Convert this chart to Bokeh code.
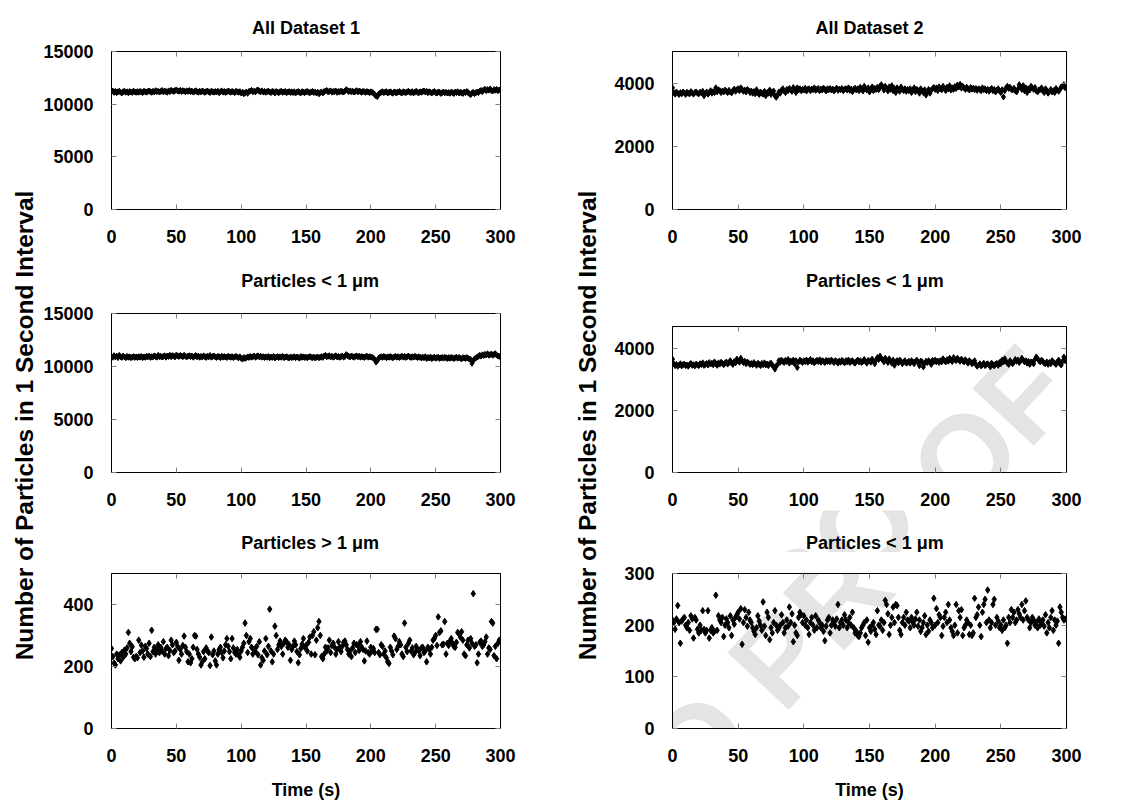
import math
from bokeh.plotting import figure
from bokeh.layouts import row, column
from bokeh.models import Range1d, LinearAxis, FixedTicker, Label
from bokeh.embed import file_html
from bokeh.resources import INLINE

FONT = "Liberation Sans"

# ---------------- data ----------------
time_s = list(range(300))

ds1_all = [
    11180,11250,11120,11210,11090,11170,11230,11140,11060,11190,11220,11130,11170,11080,11200,11150,11110,11240,11160,11120,
    11190,11130,11210,11160,11090,11230,11170,11140,11200,11250,11180,11120,11220,11160,11280,11190,11230,11150,11210,11300,
    11170,11240,11200,11130,11260,11190,11320,11250,11210,11300,11350,11260,11230,11310,11200,11280,11240,11170,11260,11220,
    11300,11190,11240,11150,11210,11270,11180,11130,11220,11160,11250,11190,11120,11200,11240,11170,11100,11230,11180,11140,
    11200,11150,11230,11090,11180,11260,11140,11200,11110,11170,11240,11190,11130,11210,11160,11080,11220,11170,11130,11190,
    11060,11140,10980,11080,11150,11030,11200,11250,11310,11180,11230,11170,11290,11350,11220,11180,11260,11150,11210,11130,
    11190,11240,11150,11100,11210,11170,11060,11200,11140,11090,11180,11230,11120,11160,11210,11080,11150,11190,11110,11170,
    11100,11180,11060,11150,11200,11120,11070,11190,11140,11090,11170,11210,11130,11080,11160,11200,11110,11150,11060,11130,
    10980,11100,11160,11060,11190,11250,11300,11170,11220,11260,11140,11210,11180,11250,11120,11200,11170,11230,11190,11150,
    11240,11380,11290,11200,11260,11180,11230,11150,11210,11280,11170,11240,11190,11130,11220,11180,11120,11200,11150,11090,
    11170,11120,11050,10900,10780,10720,10950,11060,11130,11180,11090,11150,11200,11060,11120,11170,11100,11040,11160,11110,
    11080,11150,11200,11120,11060,11180,11130,11090,11170,11220,11140,11100,11190,11060,11150,11230,11120,11080,11170,11130,
    11200,11250,11150,11220,11090,11180,11130,11060,11140,11210,11100,11050,11160,11120,11020,11090,11150,11080,11130,11060,
    11110,11040,11140,11090,11010,11150,11100,11180,11060,11130,11080,11020,11150,11090,11200,11110,10980,10900,11050,11120,
    11000,11080,11150,11100,11240,11300,11180,11350,11420,11280,11380,11330,11450,11300,11250,11380,11320,11400,11280,11350,
]

ds1_small = [
    10950,10880,11020,10900,10980,10840,11050,10920,10860,10990,10900,10820,10950,10870,10910,10830,10880,10940,10860,10900,
    10850,10920,10880,10960,10830,10900,10870,10950,10910,10980,10860,10930,10890,11000,10950,10880,11050,10920,10970,10900,
    10940,11010,10880,10990,10950,11060,10920,11030,10980,10900,11080,11000,10950,11040,10990,10920,11050,10970,10900,10980,
    11020,10940,10990,10880,10960,11030,10910,10980,10870,10950,10890,11000,10930,10860,10970,10910,11040,10880,10940,10990,
    10900,10860,10950,10920,10830,10970,10880,10940,10900,10850,10960,10910,10870,10930,10840,10900,10960,10880,10820,10910,
    10780,10700,10850,10760,10820,10900,10860,10950,10880,10920,10990,10870,10940,11000,10900,10960,10880,10930,10850,10900,
    10870,10940,10820,10900,10860,10950,10800,10890,10930,10850,10910,10870,10960,10830,10890,10920,10860,10800,10900,10840,
    10880,10920,10830,10900,10860,10790,10940,10870,10910,10850,10880,10820,10900,10940,10860,10830,10890,10810,10870,10900,
    10820,10880,10930,10860,10990,11050,10920,10960,11020,10900,10970,10880,10940,11010,10900,10950,10870,10930,10990,10880,
    10940,11120,11030,10960,10900,10990,10930,10870,10950,11000,10910,10960,10880,10940,10900,10850,10920,10970,10880,10930,
    10900,10860,10800,10650,10420,10550,10780,10880,10920,10860,10950,10890,10830,10910,10870,10940,10880,10820,10900,10960,
    10880,10930,10850,10910,10970,10880,10940,10860,10920,10990,10900,10850,10930,10880,10960,10900,10840,10920,10870,10810,
    10880,10830,10920,10760,10850,10800,10890,10740,10820,10870,10780,10830,10880,10760,10810,10850,10790,10870,10820,10750,
    10840,10780,10860,10810,10750,10820,10870,10790,10850,10780,10720,10830,10800,10760,10840,10780,10700,10650,10300,10560,
    10720,10800,10900,10960,11050,10980,11100,11030,11150,11080,11200,11060,11120,11180,11050,11140,11210,11080,11000,10950,
]

ds1_large = [
    258,232,211,205,240,225,237,218,245,230,253,240,260,310,275,248,264,230,225,232,
    228,285,245,269,250,230,265,258,240,275,232,317,248,262,240,255,270,245,262,250,
    280,240,258,262,235,252,285,270,245,250,278,265,220,255,240,268,298,262,248,215,
    240,212,225,262,300,298,255,240,230,205,215,248,225,260,250,245,203,295,238,250,
    218,205,240,255,262,245,228,250,270,290,265,248,225,290,260,245,240,255,238,230,
    250,262,275,340,300,245,280,290,262,240,255,248,265,238,280,205,228,220,250,290,
    238,265,385,250,215,240,330,300,255,270,282,265,240,275,285,280,262,270,220,255,
    265,282,270,248,212,238,258,272,290,262,268,250,278,295,240,300,312,238,285,325,
    345,300,232,225,240,262,250,260,285,245,268,275,262,240,255,280,262,248,265,278,
    282,270,255,240,250,232,260,275,245,270,268,252,280,262,255,218,250,282,245,240,
    262,250,258,245,320,320,245,238,270,265,240,250,228,215,210,262,250,238,298,290,
    255,265,280,270,240,232,340,262,248,275,285,250,260,238,245,265,255,250,235,260,
    262,245,250,215,262,255,240,262,285,290,300,268,360,310,315,270,272,345,240,275,
    268,282,290,275,265,262,278,310,305,295,312,285,240,235,270,285,260,290,275,435,
    265,270,212,240,278,282,265,270,280,295,240,260,255,345,340,235,265,225,275,285,
]

ds2_all = [
    3850,3700,3650,3720,3680,3640,3700,3660,3720,3690,3640,3710,3680,3660,3730,3690,3650,3700,3720,3680,
    3660,3710,3690,3740,3600,3680,3720,3650,3700,3760,3680,3730,3700,3850,3720,3790,3760,3700,3750,3720,
    3780,3740,3700,3770,3720,3690,3760,3810,3740,3790,3820,3760,3850,3800,3740,3780,3720,3800,3760,3700,
    3750,3680,3730,3660,3790,3700,3640,3720,3680,3650,3740,3600,3700,3680,3780,3640,3720,3750,3600,3550,
    3620,3720,3680,3780,3820,3750,3700,3800,3760,3830,3780,3740,3860,3810,3700,3850,3780,3820,3760,3800,
    3780,3840,3750,3800,3820,3760,3810,3790,3850,3770,3800,3830,3760,3810,3780,3840,3800,3750,3820,3790,
    3830,3780,3810,3750,3800,3840,3770,3810,3790,3830,3760,3800,3820,3780,3850,3770,3810,3730,3800,3840,
    3780,3820,3760,3870,3800,3750,3900,3820,3780,3850,3720,3810,3880,3760,3830,3800,3870,3790,3900,3950,
    3870,3780,3900,3820,3750,3880,3800,3920,3760,3830,3700,3850,3790,3740,3880,3810,3760,3820,3740,3800,
    3760,3820,3700,3780,3850,3730,3800,3760,3680,3820,3750,3700,3790,3620,3740,3800,3680,3770,3830,3860,
    3800,3850,3760,3880,3820,3790,3900,3840,3760,3870,3810,3920,3780,3850,3800,3890,3830,3940,3880,3960,
    3840,3900,3850,3800,3870,3820,3780,3860,3810,3840,3790,3830,3770,3820,3800,3760,3850,3790,3820,3760,
    3800,3740,3790,3830,3760,3800,3720,3780,3820,3750,3700,3790,3560,3760,3850,3900,3830,3870,3800,3780,
    3840,3760,3720,3810,3950,3880,3800,3920,3760,3850,3700,3820,3780,3900,3850,3800,3860,3750,3720,3780,
    3800,3850,3750,3700,3820,3760,3680,3740,3800,3720,3760,3700,3830,3780,3740,3800,3880,3900,3950,3850,
]

ds2_small = [
    3650,3500,3440,3480,3420,3460,3500,3430,3470,3490,3440,3460,3420,3480,3510,3450,3470,3430,3490,3460,
    3440,3500,3470,3530,3450,3480,3510,3460,3540,3490,3520,3470,3560,3500,3450,3530,3490,3550,3510,3470,
    3520,3560,3490,3540,3600,3520,3480,3570,3530,3650,3590,3550,3680,3600,3540,3580,3500,3560,3520,3480,
    3510,3470,3540,3490,3450,3520,3480,3440,3510,3470,3530,3460,3490,3440,3500,3520,3460,3400,3330,3420,
    3480,3600,3550,3620,3580,3540,3610,3570,3640,3520,3590,3560,3620,3500,3600,3380,3560,3620,3580,3540,
    3600,3570,3620,3550,3590,3640,3560,3600,3530,3580,3610,3570,3630,3550,3600,3580,3540,3610,3570,3600,
    3560,3620,3580,3540,3600,3570,3520,3590,3550,3610,3570,3530,3600,3560,3620,3540,3580,3600,3550,3520,
    3580,3620,3560,3600,3540,3580,3640,3570,3520,3610,3590,3550,3650,3580,3500,3620,3700,3640,3750,3680,
    3620,3560,3680,3600,3540,3660,3580,3520,3620,3450,3560,3600,3530,3620,3580,3500,3560,3600,3520,3540,
    3580,3520,3600,3560,3500,3580,3620,3540,3440,3590,3560,3400,3520,3580,3540,3600,3560,3480,3610,3570,
    3620,3560,3590,3540,3600,3560,3660,3600,3560,3630,3580,3680,3620,3570,3700,3640,3600,3680,3620,3580,
    3650,3600,3560,3630,3580,3520,3600,3560,3500,3540,3600,3480,3420,3460,3500,3430,3470,3520,3440,3480,
    3500,3460,3400,3520,3470,3430,3490,3510,3450,3540,3500,3620,3560,3660,3580,3520,3480,3600,3550,3500,
    3560,3640,3580,3620,3540,3600,3680,3620,3560,3600,3520,3580,3480,3560,3540,3500,3640,3720,3660,3600,
    3560,3620,3580,3520,3500,3560,3480,3540,3500,3600,3560,3520,3480,3560,3620,3500,3460,3580,3720,3600,
]

ds2_small_b = [
    210,205,192,212,238,205,165,208,212,215,200,195,205,190,218,212,175,215,210,192,
    185,200,190,228,192,185,190,228,175,190,195,185,188,258,190,218,210,205,215,178,
    200,212,205,195,218,180,210,202,215,220,225,212,232,163,205,230,215,198,225,210,
    205,195,188,182,195,218,208,200,190,245,198,180,225,215,172,195,185,205,228,200,
    190,195,200,220,205,185,195,210,198,235,205,222,168,200,185,180,215,225,220,205,
    218,200,210,195,182,205,215,200,190,218,195,210,205,195,200,188,170,198,210,215,
    185,200,210,205,198,212,240,195,205,210,200,220,210,195,205,215,200,225,195,185,
    188,180,178,185,195,200,205,180,210,167,195,188,200,205,192,182,228,200,198,210,
    190,205,248,240,222,182,200,215,235,205,240,238,215,190,182,205,215,200,225,210,
    208,195,215,205,200,212,225,198,210,188,195,205,218,182,200,188,210,205,195,252,
    200,232,205,220,215,180,198,215,225,205,240,210,195,188,180,200,240,185,228,215,
    230,180,195,200,210,205,182,200,180,185,252,215,220,235,200,178,225,240,250,205,
    268,210,195,205,240,250,200,215,208,195,200,190,210,195,200,165,215,205,230,215,
    225,205,210,230,222,215,240,210,228,247,215,210,195,205,215,210,200,205,195,212,
    200,205,210,198,220,185,205,195,215,228,190,210,200,208,165,235,225,215,210,212,
]

x_ticks = [0, 50, 100, 150, 200, 250, 300]
titles = ["All Dataset 1", "All Dataset 2", "Particles < 1 \u03bcm", "Particles < 1 \u03bcm",
          "Particles > 1 \u03bcm", "Particles < 1 \u03bcm"]
y_label = "Number of Particles in 1 Second Interval"
x_label = "Time (s)"
watermark = "UNCORRECTED PROOF"

# ---------------- layout constants (page px, origin at page top-left) ----------------
LAB_L_X, LAB_L_W = 0, 40
COL_L_X, COL_L_W = 40, 520
LAB_R_X, LAB_R_W = 560, 45
COL_R_X, COL_R_W = 605, 514
TOTAL_H = 802
YLAB_CY = 425
BL_L, BR_L = 71, 60
BL_R, BR_R = 67, 53

WM_X, WM_Y, WM_ANG, WM_SIZE = 1048, 368, 47.0, 122
WM_COLOR = "#e4e4e4"
TICK_FS = "18px"


def style_axis(ax, ticks, labels=True):
    ax.ticker = FixedTicker(ticks=ticks)
    ax.major_tick_in = 5
    ax.major_tick_out = 0
    ax.minor_tick_line_color = None
    ax.major_tick_line_color = "#808080"
    ax.axis_line_color = "black"
    ax.axis_line_width = 1
    if labels:
        ax.major_label_text_font = FONT
        ax.major_label_text_font_style = "bold"
        ax.major_label_text_font_size = TICK_FS
        ax.major_label_text_color = "black"
    else:
        ax.major_label_text_font_size = "0px"
        ax.major_label_text_color = None
        ax.major_label_standoff = 0


def wm_label(x, y):
    return Label(x=x, y=y, text=watermark, angle=math.radians(WM_ANG),
                 text_align="right", text_baseline="middle", text_font=FONT,
                 text_font_style="bold", text_font_size=f"{WM_SIZE}px",
                 text_color=WM_COLOR, level="underlay")


def blank_fig(w, h):
    p = figure(width=w, height=h, x_range=Range1d(0, w), y_range=Range1d(0, h),
               output_backend="svg", toolbar_location=None, min_border=0,
               x_axis_type=None, y_axis_type=None)
    p.grid.visible = False
    p.outline_line_color = None
    p.background_fill_color = None
    return p


def title_fig(title, fx, fy, w, h, bl, br, base, wm=False):
    p = blank_fig(w, h)
    if wm:
        p.add_layout(wm_label(WM_X - fx, fy + h - WM_Y))
    p.add_layout(Label(x=bl + (w - bl - br) / 2, y=fy + h - base, text=title,
                       text_align="center", text_baseline="alphabetic", text_font=FONT,
                       text_font_style="bold", text_font_size=TICK_FS, text_color="black"))
    return p


def panel(xs, ys, ymax, yticks, fx, fy, w, h, bl, br, bt, bb, msize, xl=None, wm=False,
          title=None, tstand=0):
    p = figure(width=w, height=h, x_range=Range1d(0, 300), y_range=Range1d(0, ymax),
               output_backend="svg", toolbar_location=None,
               min_border_left=bl, min_border_right=br, min_border_top=bt, min_border_bottom=bb)
    p.grid.visible = False
    p.outline_line_color = "black"
    p.background_fill_color = None
    p.border_fill_color = "white"
    xb = p.below[0]
    yl = p.left[0]
    style_axis(xb, x_ticks)
    style_axis(yl, yticks)
    xb.major_label_standoff = 20
    yl.major_label_standoff = 18
    top = LinearAxis(); style_axis(top, x_ticks, labels=False); p.add_layout(top, "above")
    rgt = LinearAxis(); style_axis(rgt, yticks, labels=False); p.add_layout(rgt, "right")
    if title:
        p.title.text = title
        p.title.align = "center"
        p.title.text_font = FONT
        p.title.text_font_style = "bold"
        p.title.text_font_size = TICK_FS
        p.title.text_color = "black"
        p.title.standoff = tstand
    if xl:
        xb.axis_label = xl
        xb.axis_label_text_font = FONT
        xb.axis_label_text_font_style = "bold"
        xb.axis_label_text_font_size = TICK_FS
        xb.axis_label_text_color = "black"
        xb.axis_label_standoff = 15
    if wm:
        fl, ft = fx + bl, fy + bt
        fw, fh = w - bl - br, h - bt - bb
        p.add_layout(wm_label((WM_X - fl) / fw * 300, (ft + fh - WM_Y) / fh * ymax))
    p.scatter(xs, ys, marker="diamond", size=msize, color="black")
    return p


# row 1: panel 0-250 (own title) ; row 2: title strip 250-292, panel 292-510 ; row 3: 510-552, 552-802
pL1 = panel(time_s, ds1_all, 15000, [0, 5000, 10000, 15000], COL_L_X, 0, COL_L_W, 250, BL_L, BR_L, 51, 41, 6,
            title=titles[0], tstand=28)
pR1 = panel(time_s, ds2_all, 5000, [0, 2000, 4000], COL_R_X, 0, COL_R_W, 250, BL_R, BR_R, 51, 41, 6,
            title=titles[1], tstand=28)

tL2 = title_fig(titles[2], COL_L_X, 250, COL_L_W, 42, BL_L, BR_L, 280)
tR2 = title_fig(titles[3], COL_R_X, 250, COL_R_W, 42, BL_R, BR_R, 280)
pL2 = panel(time_s, ds1_small, 15000, [0, 5000, 10000, 15000], COL_L_X, 292, COL_L_W, 218, BL_L, BR_L, 21, 38, 6)
pR2 = panel(time_s, ds2_small, 4700, [0, 2000, 4000], COL_R_X, 292, COL_R_W, 218, BL_R, BR_R, 34, 38, 6, wm=True)

tL3 = title_fig(titles[4], COL_L_X, 510, COL_L_W, 42, BL_L, BR_L, 542)
tR3 = title_fig(titles[5], COL_R_X, 510, COL_R_W, 42, BL_R, BR_R, 542, wm=True)
pL3 = panel(time_s, ds1_large, 500, [0, 200, 400], COL_L_X, 552, COL_L_W, 250, BL_L, BR_L, 21, 73, 6.5, x_label)
pR3 = panel(time_s, ds2_small_b, 300, [0, 100, 200, 300], COL_R_X, 552, COL_R_W, 250, BL_R, BR_R, 21, 73, 6.5,
            x_label, wm=True)

labL = blank_fig(LAB_L_W, TOTAL_H)
labR = blank_fig(LAB_R_W, TOTAL_H)
for fig_, cx in ((labL, 24), (labR, 27)):
    fig_.add_layout(Label(x=cx, y=TOTAL_H - YLAB_CY, text=y_label, angle=math.pi / 2,
                          text_align="center", text_baseline="middle", text_font=FONT,
                          text_font_style="bold", text_font_size="24.5px", text_color="black"))

layout = row(labL, column(pL1, tL2, pL2, tL3, pL3), labR, column(pR1, tR2, pR2, tR3, pR3))

open("out.html", "w").write(file_html(layout, INLINE))
